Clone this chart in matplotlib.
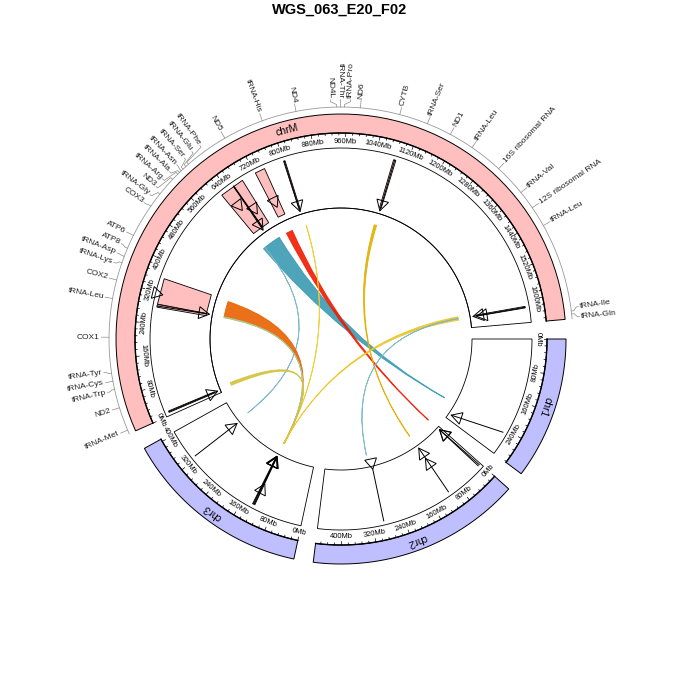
import numpy as np
import matplotlib.pyplot as plt
from matplotlib.patches import Polygon, PathPatch
from matplotlib.path import Path

plt.rcParams['font.family'] = ['Liberation Sans', 'DejaVu Sans']

# sectors (lengths in the axis units shown on the plot, "Mb")
chroms = ['chr1', 'chr2', 'chr3', 'chrM']
chrom_len = [306, 460, 406, 1656]
chrom_col = ['#BFBFFF', '#BFBFFF', '#BFBFFF', '#FFBFBF']

# gene annotation on chrM
gene_names = ['tRNA-Met', 'ND2', 'tRNA-Trp', 'tRNA-Cys', 'tRNA-Tyr', 'COX1', 'tRNA-Leu',
              'COX2', 'tRNA-Lys', 'tRNA-Asp', 'ATP8', 'ATP6', 'COX3', 'tRNA-Gly', 'ND3',
              'tRNA-Arg', 'tRNA-Ala', 'tRNA-Asn', 'tRNA-Ser', 'tRNA-Glu', 'tRNA-Phe', 'ND5',
              'tRNA-His', 'ND4', 'ND4L', 'tRNA-Thr', 'tRNA-Pro', 'ND6', 'CYTB', 'tRNA-Ser',
              'ND1', 'tRNA-Leu', '16S ribosomal RNA', 'tRNA-Val', '12S ribosomal RNA',
              'tRNA-Leu', 'tRNA-Ile', 'tRNA-Gln']
gene_pos = [8, 57, 96, 113, 130, 204, 284, 323, 360, 374, 392, 421, 491, 522, 562, 577,
            582, 587, 592, 600, 607, 699, 784, 856, 940, 948, 956, 989, 1071, 1131, 1183,
            1235, 1305, 1372, 1411, 1454, 1640, 1646]

# regions (pink boxes) in the track
reg_chr = ['chrM', 'chrM', 'chrM', 'chrM', 'chrM', 'chrM', 'chrM', 'chrM', 'chrM']
reg_start = [619, 722, 800, 1085, 290, 282, 8, 1614, 656]
reg_end = [684, 748, 804, 1091, 357, 289, 12, 1618, 658]

# arrows in the track: position at top of track -> position at bottom, head orientation
arr_chr = ['chr1', 'chr2', 'chr2', 'chr2', 'chr2', 'chr3', 'chr3', 'chr3', 'chr3', 'chr3',
           'chrM', 'chrM', 'chrM', 'chrM', 'chrM', 'chrM']
arr_top = [249, 4, 8, 109, 291, 326, 128, 130, 132, 134, 802, 1088, 10, 1616, 285, 657]
arr_bot = [288, 7, 7, 106, 287, 323, 136, 137, 138, 139, 801, 1089, 10, 1617, 289, 653]
arr_head = [1, 1, 1, 1, -1, 1, 1, 1, 1, 1, 1, 1, 1, 1, 1, 1]

# extra markers (value 0-1 inside the track)
mk_chr = ['chrM', 'chrM', 'chrM', 'chr2', 'chr3', 'chrM', 'chrM']
mk_pos = [637, 668, 734, 108, 130, 316, 1619]
mk_val = [0.60, 0.40, 0.33, 0.33, 0.63, 0.97, 0.18]

# links: side a -> side b
la_chr = ['chrM', 'chrM', 'chrM', 'chrM', 'chrM', 'chrM', 'chrM', 'chrM', 'chrM', 'chrM']
la_s = [611, 618, 722, 807, 1084, 287, 286, 10, 1608, 1615]
la_e = [689, 619, 748, 808, 1094, 353, 289, 22, 1622, 1616]
lb_chr = ['chr1', 'chr3', 'chr2', 'chr3', 'chr2', 'chr3', 'chr3', 'chr3', 'chr3', 'chr2']
lb_s = [245, 328, 8, 137, 107, 136, 137, 137, 138, 298]
lb_e = [247, 329, 10, 138, 109, 139, 138, 138, 139, 299]
link_col = ['#3B9AB2', '#78B7C5', '#F21A00', '#EBCC2A', '#E1AF00', '#E86100', '#A8CF96',
            '#D2C23A', '#E8C62A', '#78B7C5']

gap = 5.0
deg_per = (360 - gap * len(chroms)) / sum(chrom_len)
start_phi = {}
acc = 0.0
for c, L in zip(chroms, chrom_len):
    start_phi[c] = acc
    acc += L * deg_per + gap
clen = dict(zip(chroms, chrom_len))


def theta(c, pos):
    return -(start_phi[c] + np.asarray(pos, float) * deg_per)


def xy(c, pos, r):
    a = np.deg2rad(theta(c, pos))
    return r * np.cos(a), r * np.sin(a)


def arc(c, s, e, r, n=80):
    x, y = xy(c, np.linspace(s, e, n), r)
    return np.column_stack([x, y])


R_IN, R_OUT = 131, 191          # data track
R_BAND0, R_BAND1 = 206, 225     # ideogram
R_LINK = 119


def ry(v):
    return R_IN + (R_OUT - R_IN) * v


def triangle(ax, px, py, dx, dy, size=12):
    d = np.array([dx, dy], float)
    d /= np.hypot(*d)
    p = np.array([px, py])
    h = size * 0.866
    base = p - d * h
    perp = np.array([-d[1], d[0]]) * size / 2
    ax.add_patch(Polygon([p, base + perp, base - perp], closed=True,
                         fill=False, edgecolor='black', lw=0.7, zorder=5))


fig = plt.figure(figsize=(6.8, 6.8), dpi=100)
ax = fig.add_axes([0, 0, 1, 1])
ax.set_xlim(-341, 339)
ax.set_ylim(-341, 339)
ax.set_aspect('equal')
ax.axis('off')

fig.text(0.5, 0.985, 'WGS_063_E20_F02', ha='center', va='center',
         fontsize=10.5, fontweight='bold')

# ideogram, axis and track cells
for c, col in zip(chroms, chrom_col):
    L = clen[c]
    pts = np.vstack([arc(c, 0, L, R_BAND1), arc(c, 0, L, R_BAND0)[::-1]])
    ax.add_patch(Polygon(pts, closed=True, facecolor=col, edgecolor='black', lw=0.7))
    ax.plot(*arc(c, 0, L, R_BAND0).T, color='black', lw=1.0)
    pts = np.vstack([arc(c, 0, L, R_OUT), arc(c, 0, L, R_IN)[::-1]])
    ax.add_patch(Polygon(pts, closed=True, fill=False, edgecolor='black', lw=0.6))
    mid = L / 2
    t = float(theta(c, mid))
    x, y = xy(c, mid, (R_BAND0 + R_BAND1) / 2)
    ax.text(x, y, c, rotation=t - 90, rotation_mode='anchor', ha='center',
            va='center', fontsize=7.5)
    for v in np.arange(0, L + 1, 16):
        major = v % 80 == 0
        r1 = R_BAND0 - (3.5 if major else 2)
        x0, y0 = xy(c, v, R_BAND0)
        x1, y1 = xy(c, v, r1)
        ax.plot([x0, x1], [y0, y1], color='black', lw=0.5)
        if major:
            t = float(theta(c, v))
            rot = (t - 90 + 180) % 360 - 180
            if rot < -90 or rot > 90:
                rot += 180
            x, y = xy(c, v, 197.5)
            ax.text(x, y, f'{v}Mb', rotation=rot, rotation_mode='anchor',
                    ha='center', va='center', fontsize=5.4)

# gene labels with spread positions
gphi = np.array([float(-theta('chrM', p)) for p in gene_pos])
lphi = gphi.copy()
min_gap = 2.4
for _ in range(2000):
    moved = False
    for i in range(len(lphi) - 1):
        d = lphi[i + 1] - lphi[i]
        if d < min_gap - 1e-6:
            lphi[i] -= (min_gap - d) / 2
            lphi[i + 1] += (min_gap - d) / 2
            moved = True
    if not moved:
        break

ax.plot(*arc('chrM', 0, clen['chrM'], 232).T, color='#9a9a9a', lw=0.6)
for name, gp, lp in zip(gene_names, gphi, lphi):
    ta, la = np.deg2rad(-gp), np.deg2rad(-lp)
    rs = [232, 234.5, 237.5, 239.5]
    xs = [rs[0] * np.cos(ta), rs[1] * np.cos(ta), rs[2] * np.cos(la), rs[3] * np.cos(la)]
    ys = [rs[0] * np.sin(ta), rs[1] * np.sin(ta), rs[2] * np.sin(la), rs[3] * np.sin(la)]
    ax.plot(xs, ys, color='#8c8c8c', lw=0.5)
    t = (-lp) % 360
    if t < 90 or t > 270:
        rot, ha = t, 'left'
    else:
        rot, ha = t - 180, 'right'
    ax.text(241 * np.cos(la), 241 * np.sin(la), name, rotation=rot, rotation_mode='anchor',
            ha=ha, va='center', fontsize=6.0, color='#222222')

# region boxes
for c, s, e in zip(reg_chr, reg_start, reg_end):
    x0, y0 = xy(c, s, ry(0.1))
    x1, y1 = xy(c, e, ry(0.1))
    x2, y2 = xy(c, e, ry(0.93))
    x3, y3 = xy(c, s, ry(0.93))
    ax.add_patch(Polygon([[x0, y0], [x1, y1], [x2, y2], [x3, y3]], closed=True,
                         facecolor='#FFBFBF', edgecolor='black', lw=0.6, zorder=3))

# arrows
for c, a, b, hd in zip(arr_chr, arr_top, arr_bot, arr_head):
    x0, y0 = xy(c, a, ry(0.93))
    x1, y1 = xy(c, b, ry(0.05))
    ax.plot([x0, x1], [y0, y1], color='black', lw=0.7, zorder=4)
    if hd > 0:
        triangle(ax, x1, y1, x1 - x0, y1 - y0)
    else:
        d = np.array([x1 - x0, y1 - y0]) / np.hypot(x1 - x0, y1 - y0)
        triangle(ax, x1, y1, -d[0], -d[1])

for c, p, v in zip(mk_chr, mk_pos, mk_val):
    x, y = xy(c, p, ry(v))
    triangle(ax, x * 0.97, y * 0.97, -x, -y)

# links
for ac, a1, a2, bc, b1, b2, col in zip(la_chr, la_s, la_e, lb_chr, lb_s, lb_e, link_col):
    A = arc(ac, a1, a2, R_LINK, 30)
    B = arc(bc, b1, b2, R_LINK, 30)
    verts = list(A) + [(0, 0), tuple(B[0])] + list(B[1:]) + [(0, 0), tuple(A[0]), tuple(A[0])]
    codes = ([Path.MOVETO] + [Path.LINETO] * (len(A) - 1) + [Path.CURVE3, Path.CURVE3]
             + [Path.LINETO] * (len(B) - 1) + [Path.CURVE3, Path.CURVE3, Path.CLOSEPOLY])
    ax.add_patch(PathPatch(Path(verts, codes), facecolor=col, edgecolor=col, lw=0.6,
                           alpha=0.9, zorder=2))

ax.plot(*arc('chrM', 0, clen['chrM'], R_IN).T, color='black', lw=0.6)

fig.savefig('out.png', dpi=100)
